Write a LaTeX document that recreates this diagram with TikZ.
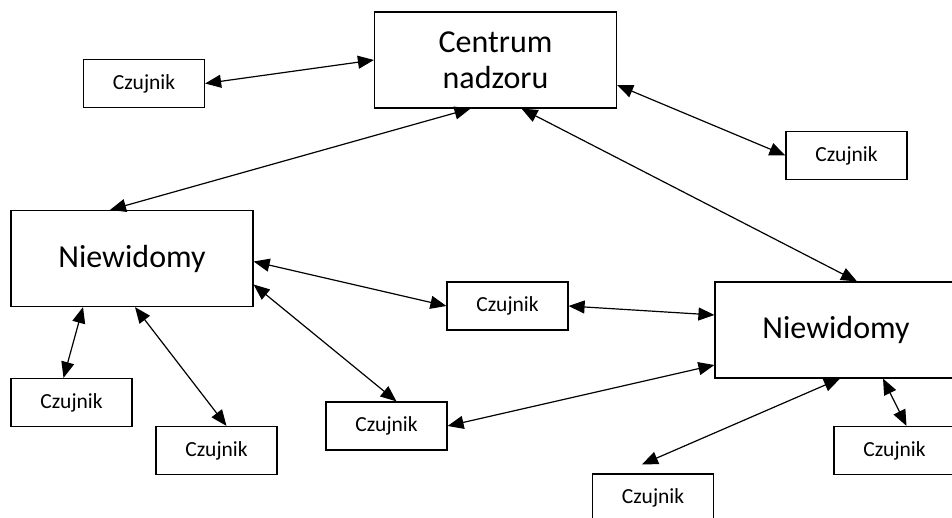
\documentclass[tikz,border=0pt]{standalone}
\usepackage{fontspec}
\setmainfont{Carlito}
\usetikzlibrary{arrows.meta}
\begin{document}
\begin{tikzpicture}[x=1pt, y=-1pt, every node/.style={font=\fontsize{21.5}{25}\selectfont},
  unit/.style={draw,line width=1.2pt,minimum width=242pt,minimum height=96pt,align=center,inner sep=0pt,
    font=\fontsize{32}{36}\selectfont},
  sensor/.style={draw,line width=1.2pt,minimum width=121pt,minimum height=48pt,inner sep=0pt},
  link/.style={{Triangle[length=16pt,width=13pt]}-{Triangle[length=16pt,width=13pt]},line width=1.2pt}]
\clip (0,0) rectangle (952,518);
\fill[white] (0,0) rectangle (952,518);
\node[unit] (centre) at (495.5,60) {Centrum\\nadzoru};
\node[unit] (blindL) at (132,258.5) {Niewidomy};
\node[unit] (blindR) at (836,330) {Niewidomy};
\node[sensor] (sensA) at (144,83.5) {Czujnik};
\node[sensor] (sensB) at (846.5,155.5) {Czujnik};
\node[sensor] (sensC) at (507.5,306) {Czujnik};
\node[sensor] (sensD) at (71.5,402.5) {Czujnik};
\node[sensor] (sensE) at (216.5,450.5) {Czujnik};
\node[sensor] (sensF) at (386.5,426) {Czujnik};
\node[sensor] (sensG) at (894.5,450.5) {Czujnik};
\node[sensor] (sensH) at (653,498) {Czujnik};
% links to the centre
\draw[link] (sensA.east) -- (centre.west);
\draw[link] ([xshift=-25pt]centre.south) -- ([xshift=-22pt]blindL.north);
\draw[link] ([yshift=-25pt]centre.east) -- (sensB.west);
\draw[link] ([xshift=26pt]centre.south) -- ([xshift=21pt]blindR.north);
% links between the two users
\draw[link] ([yshift=-3pt]blindL.east) -- (sensC.west);
\draw[link] (sensC.east) -- ([yshift=15pt]blindR.west);
\draw[link] ([yshift=-26pt]blindL.east) -- ([xshift=10pt]sensF.north);
\draw[link] (sensF.east) -- ([yshift=-35pt]blindR.west);
% own sensors
\draw[link] ([xshift=-49pt]blindL.south) -- ([xshift=-8pt]sensD.north);
\draw[link] ([xshift=3pt]blindL.south) -- ([xshift=10pt]sensE.north);
\draw[link] ([xshift=4pt]blindR.south) -- ([xshift=-11pt,yshift=9pt]sensH.north);
\draw[link] ([xshift=47pt]blindR.south) -- ([xshift=12pt]sensG.north);
\end{tikzpicture}
\end{document}
